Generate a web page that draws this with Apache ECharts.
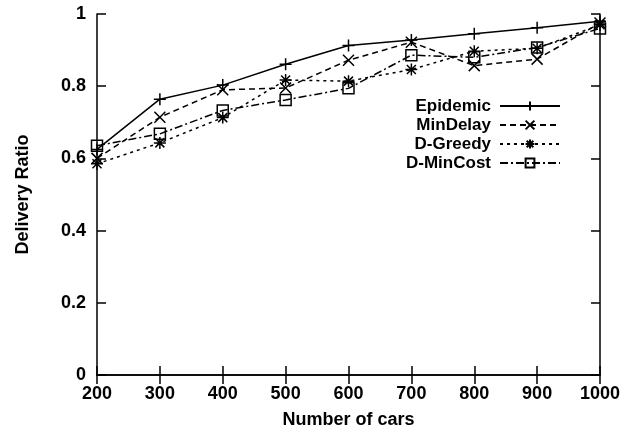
<!DOCTYPE html>
<html><head><meta charset="utf-8">
<script src="https://cdn.jsdelivr.net/npm/echarts@6/dist/echarts.min.js"></script>
<style>html,body{margin:0;padding:0;background:#fff}#c{width:621px;height:430px}</style>
</head><body><div id="c"></div>
<script>
const cars = [200, 300, 400, 500, 600, 700, 800, 900, 1000];
const epidemic = [0.625, 0.764, 0.803, 0.861, 0.913, 0.928, 0.945, 0.962, 0.98];
const minDelay = [0.60, 0.714, 0.79, 0.795, 0.872, 0.922, 0.857, 0.875, 0.975];
const dGreedy = [0.585, 0.643, 0.713, 0.817, 0.814, 0.846, 0.897, 0.905, 0.97];
const dMinCost = [0.635, 0.668, 0.733, 0.762, 0.794, 0.886, 0.88, 0.907, 0.96];
const yTicks = [0, 0.2, 0.4, 0.6, 0.8, 1];

const FONT = 'Liberation Sans, Arial, sans-serif';
const plus = 'path://M0,-1L0,1M-1,0L1,0';
const cross = 'path://M-1,-1L1,1M-1,1L1,-1';
const star = 'path://M0,-1L0,1M-1,0L1,0M-0.75,-0.75L0.75,0.75M-0.75,0.75L0.75,-0.75';
const square = 'path://M-1,-1L1,-1L1,1L-1,1Z';

function mk(name, vals, sym, dash, size) {
  return {
    name: name, type: 'line',
    data: cars.map((c, i) => [c, vals[i]]),
    symbol: sym, symbolSize: size,
    showAllSymbol: true,
    lineStyle: { color: '#000', width: 1.5, type: dash },
    itemStyle: { color: 'rgba(0,0,0,0)', borderColor: '#000', borderWidth: 1.5 },
    emphasis: { disabled: true },
    animation: false
  };
}

const chart = echarts.init(document.getElementById('c'), null, { renderer: 'canvas' });
chart.setOption({
  animation: false,
  backgroundColor: '#fff',
  grid: { left: 97, right: 21, top: 14, bottom: 55, containLabel: false, outerBoundsMode: 'none' },
  legend: {
    orient: 'vertical', align: 'right', right: 55, top: 92,
    itemWidth: 60, itemHeight: 11, itemGap: 1,
    textStyle: { fontFamily: FONT, fontWeight: 'bold', fontSize: 17, lineHeight: 18, color: '#000', padding: [0, 4, 0, 0] },
    data: ['Epidemic', 'MinDelay', 'D-Greedy', 'D-MinCost']
  },
  xAxis: [{
    type: 'value', min: 200, max: 1000, interval: 100,
    name: 'Number of cars', nameLocation: 'middle', nameGap: 36,
    nameTextStyle: { fontFamily: FONT, fontWeight: 'bold', fontSize: 18, color: '#000' },
    axisLine: { lineStyle: { color: '#000', width: 1.5 } },
    axisTick: { inside: true, length: 9, lineStyle: { color: '#000', width: 1.5 } },
    axisLabel: { fontFamily: FONT, fontWeight: 'bold', fontSize: 18, color: '#000', margin: 10,
      formatter: v => String(Math.round(v)) },
    splitLine: { show: false }
  }, {
    type: 'value', position: 'top', min: 200, max: 1000, interval: 100,
    axisLine: { show: true, lineStyle: { color: '#000', width: 1.5 } },
    axisTick: { inside: true, length: 9, lineStyle: { color: '#000', width: 1.5 } },
    axisLabel: { show: false }, splitLine: { show: false }
  }],
  yAxis: [{
    type: 'value', min: 0, max: 1, interval: 0.2,
    name: 'Delivery Ratio', nameLocation: 'middle', nameGap: 65, nameRotate: 90,
    nameTextStyle: { fontFamily: FONT, fontWeight: 'bold', fontSize: 18, color: '#000' },
    axisLine: { show: true, lineStyle: { color: '#000', width: 1.5 } },
    axisTick: { show: true, inside: true, length: 9, lineStyle: { color: '#000', width: 1.5 } },
    axisLabel: { fontFamily: FONT, fontWeight: 'bold', fontSize: 18, color: '#000', margin: 11,
      formatter: v => String(yTicks.find(t => Math.abs(t - v) < 1e-9) ?? v) },
    splitLine: { show: false }
  }, {
    type: 'value', position: 'right', min: 0, max: 1, interval: 0.2,
    axisLine: { show: true, lineStyle: { color: '#000', width: 1.5 } },
    axisTick: { show: true, inside: true, length: 9, lineStyle: { color: '#000', width: 1.5 } },
    axisLabel: { show: false }, splitLine: { show: false }
  }],
  series: [
    mk('Epidemic', epidemic, plus, 'solid', 12),
    mk('MinDelay', minDelay, cross, [6, 4], 11),
    mk('D-Greedy', dGreedy, star, [3, 4], 12),
    mk('D-MinCost', dMinCost, square, [8, 3, 2, 3], 11)
  ]
});
</script></body></html>
